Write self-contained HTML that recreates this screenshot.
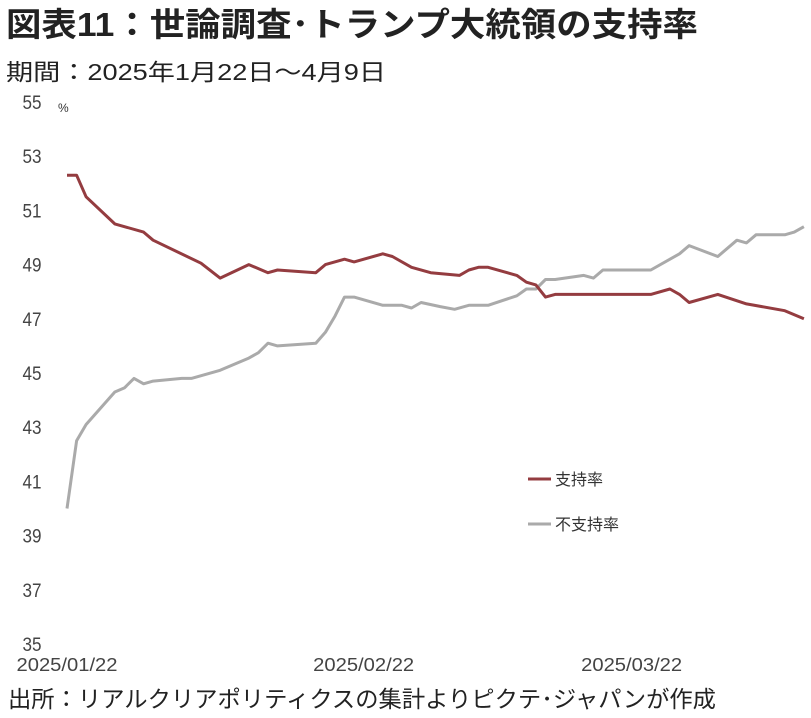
<!DOCTYPE html>
<html><head><meta charset="utf-8">
<style>
html,body{margin:0;padding:0;background:#fff;width:811px;height:718px;overflow:hidden}
svg text{font-family:"Liberation Sans","Noto Sans CJK JP",sans-serif}
</style></head>
<body>
<svg width="811" height="718" viewBox="0 0 811 718">
<text x="6" y="36" font-size="33" font-weight="bold" fill="#222" textLength="692" lengthAdjust="spacingAndGlyphs">図表11：世論調査･トランプ大統領の支持率</text>
<text x="6" y="80" font-size="23" fill="#222" textLength="380" lengthAdjust="spacingAndGlyphs">期間：2025年1月22日～4月9日</text>
<text x="58" y="112" font-size="12" fill="#333">%</text>
<g id="yaxis"></g>
<g id="xaxis"></g>
<g id="series"></g>
<line x1="528" y1="479" x2="551" y2="479" stroke="#943c40" stroke-width="3"/>
<text x="555" y="485" font-size="16" fill="#333">支持率</text>
<line x1="528" y1="524" x2="551" y2="524" stroke="#aaaaaa" stroke-width="3"/>
<text x="555" y="530" font-size="16" fill="#333">不支持率</text>
<text x="8" y="707" font-size="23" fill="#222" textLength="708" lengthAdjust="spacingAndGlyphs">出所：リアルクリアポリティクスの集計よりピクテ･ジャパンが作成</text>
</svg>
<script>
const yTicks=[35,37,39,41,43,45,47,49,51,53,55];
const xLabels=["2025/01/22","2025/02/22","2025/03/22"];
const xLabelDays=[0,31,59];
const approveDays=[0,1,2,5,8,9,14,16,19,21,22,26,27,29,30,33,34,36,38,41,42,43,44,47,48,49,50,51,61,63,64,65,68,71,75,77];
const approveVals=[52.3,52.3,51.5,50.5,50.2,49.9,49.05,48.5,49.0,48.7,48.8,48.7,49.0,49.2,49.1,49.4,49.3,48.9,48.7,48.6,48.8,48.9,48.9,48.6,48.35,48.25,47.8,47.9,47.9,48.1,47.9,47.6,47.9,47.55,47.3,47.0];
const disDays=[0,1,2,5,6,7,8,9,12,13,16,19,20,21,22,26,27,28,29,30,33,35,36,37,39,40.5,42,44,47,48,49,50,51,54,55,56,61,64,65,68,70,71,72,75,76,77];
const disVals=[40.0,42.5,43.1,44.3,44.45,44.8,44.6,44.7,44.8,44.8,45.1,45.55,45.75,46.1,46.0,46.1,46.5,47.1,47.8,47.8,47.5,47.5,47.4,47.6,47.45,47.35,47.5,47.5,47.85,48.1,48.1,48.45,48.45,48.6,48.5,48.8,48.8,49.4,49.7,49.3,49.9,49.8,50.1,50.1,50.2,50.4];
const NS="http://www.w3.org/2000/svg";
function xs(d){return 67+d*9.57;}
function ys(v){return 644-(v-35)*27.1;}
const ya=document.getElementById('yaxis');
yTicks.forEach(t=>{
  const el=document.createElementNS(NS,'text');
  el.setAttribute('x',32);el.setAttribute('y',ys(t)+7);
  el.setAttribute('text-anchor','middle');el.setAttribute('font-size','19');el.setAttribute('fill','#444');
  el.setAttribute('textLength','19');el.setAttribute('lengthAdjust','spacingAndGlyphs');
  
  
  el.textContent=t;ya.appendChild(el);
});
const xa=document.getElementById('xaxis');
xLabels.forEach((l,i)=>{
  const el=document.createElementNS(NS,'text');
  el.setAttribute('x',xs(xLabelDays[i]));el.setAttribute('y',671);
  el.setAttribute('text-anchor','middle');el.setAttribute('font-size','18');el.setAttribute('fill','#444');
  el.setAttribute('textLength','101');el.setAttribute('lengthAdjust','spacingAndGlyphs');
  
  
  el.textContent=l;xa.appendChild(el);
});
const sg=document.getElementById('series');
function line(days,vals,color,name){
  const p=document.createElementNS(NS,'polyline');
  p.setAttribute('points',days.map((d,i)=>xs(d).toFixed(1)+','+ys(vals[i]).toFixed(1)).join(' '));
  p.setAttribute('fill','none');p.setAttribute('stroke',color);p.setAttribute('stroke-width','3');
  p.setAttribute('stroke-linejoin','round');
  
  
  sg.appendChild(p);
}
line(disDays,disVals,'#aaaaaa','disapprove-line');
line(approveDays,approveVals,'#943c40','approve-line');
</script>
</body></html>
